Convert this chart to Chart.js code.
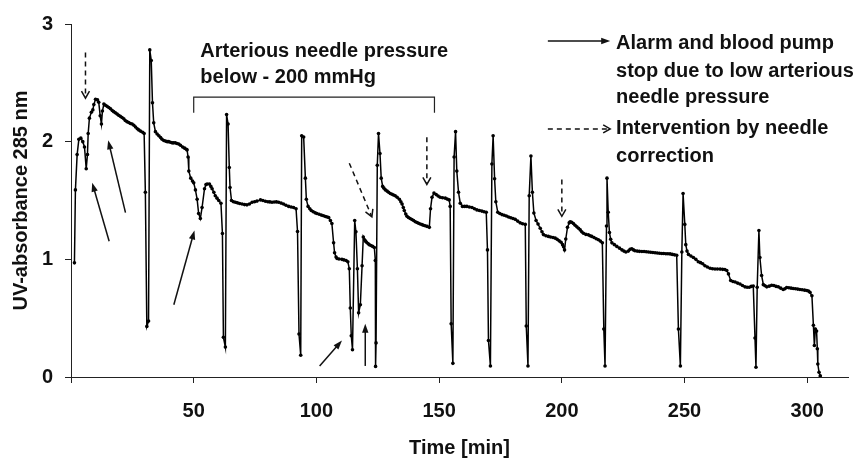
<!DOCTYPE html>
<html>
<head>
<meta charset="utf-8">
<script src="https://cdn.jsdelivr.net/npm/chart.js@4.4.0/dist/chart.umd.min.js"></script>
<style>
html,body{margin:0;padding:0;background:#fff;}
#wrap{width:867px;height:462px;position:relative;}
</style>
</head>
<body>
<div id="wrap"><canvas id="c" width="867" height="462"></canvas></div>
<script>
// ---- axis ticks ----
const xTicks = [0, 50, 100, 150, 200, 250, 300];
const yTicks = [0, 1, 2, 3];
const xTitle = 'Time [min]';
const yTitle = 'UV-absorbance 285 nm';

// ---- series: time [min] ----
const time = [
  1.4,1.8,2.5,3.2,4.0,4.8,5.5,6.2,6.7,7.0,7.5,8.3,8.9,9.3,10.0,10.8,11.3,11.9,12.4,12.8,13.4,
  14.0,14.7,15.4,16.1,16.8,17.4,18.1,18.8,19.4,20.1,20.8,21.5,22.1,22.8,23.5,24.2,24.9,25.6,26.3,27.0,27.6,28.3,29.2,29.8,
  30.3,30.9,31.6,32.1,32.7,33.2,33.7,34.4,
  35.1,35.8,36.5,37.1,37.8,38.5,39.2,39.8,40.5,41.2,41.8,42.5,43.2,43.9,44.6,45.5,46.3,47.0,47.3,
  47.7,48.0,48.8,49.5,50.0,50.7,51.4,52.0,52.7,53.4,54.4,55.0,55.5,56.4,57.0,57.5,58.2,58.8,59.5,60.2,61.1,
  61.7,62.1,62.9,63.4,64.0,64.5,64.8,65.4,
  66.2,67.0,67.8,68.7,69.7,70.7,71.7,72.7,73.8,74.8,75.8,77.2,78.2,79.2,80.2,81.0,81.9,82.8,83.7,84.6,85.6,86.6,87.6,88.7,89.7,90.7,91.7,
  92.3,92.9,93.6,94.0,94.8,95.5,95.9,96.6,
  97.3,97.9,98.7,99.5,100.2,101.1,102.0,102.9,103.7,104.4,105.0,105.7,106.3,107.0,107.4,108.0,108.4,109.2,110.4,111.2,112.1,112.8,
  113.4,113.8,114.2,114.7,115.6,116.1,116.7,117.2,117.9,118.6,119.1,119.6,120.0,120.4,121.0,121.5,122.2,122.9,123.6,
  124.0,124.1,124.3,124.8,125.3,125.9,126.4,127.0,
  127.5,128.1,128.8,129.4,130.1,130.8,131.4,132.1,132.9,133.8,134.4,134.9,135.4,135.8,136.4,136.9,137.5,138.2,138.9,139.6,140.3,141.0,141.6,142.3,143.0,143.6,144.3,145.1,146.0,
  146.5,147.1,147.9,148.8,149.6,150.4,151.4,152.5,153.3,154.1,
  154.5,154.9,155.6,156.1,156.7,157.2,157.9,158.6,
  159.5,160.4,161.3,162.3,163.4,164.4,165.4,166.4,167.4,168.3,169.2,
  169.7,170.1,170.9,171.5,172.0,172.6,173.1,173.9,
  174.7,175.6,176.5,177.4,178.3,179.2,180.1,181.0,182.0,183.0,184.0,185.1,
  185.5,186.2,186.7,187.4,188.0,188.6,189.5,190.3,
  191.2,191.9,192.5,193.5,194.5,195.4,196.4,197.3,198.1,198.9,199.7,200.3,200.7,201.1,201.6,202.3,203.0,203.4,
  204.0,204.7,205.4,206.1,206.8,207.5,208.1,208.8,209.8,210.8,211.5,212.2,213.1,214.0,214.9,215.7,216.5,
  217.1,217.6,218.2,218.4,218.9,219.4,219.9,220.4,
  221.4,222.4,223.5,224.5,225.3,226.1,227.1,227.8,228.5,229.2,229.8,230.7,231.6,232.6,233.5,234.4,235.3,236.2,237.1,238.0,238.9,239.8,240.7,241.5,242.4,243.2,244.1,245.0,245.9,246.8,
  247.5,248.3,248.9,249.4,250.1,250.5,251.0,251.6,
  252.6,253.6,254.6,255.6,256.5,257.4,258.3,259.3,260.4,261.4,262.4,263.4,264.5,265.5,266.4,267.2,267.9,268.8,269.7,270.6,271.6,272.6,273.6,274.6,275.5,276.4,277.2,278.0,
  278.7,279.1,279.6,280.3,280.7,281.4,282.1,282.8,
  283.5,284.5,285.5,286.4,287.3,288.2,289.2,290.2,290.9,291.6,292.5,293.4,294.3,295.2,296.1,297.0,297.9,298.9,299.8,300.5,301.1,301.9,
  302.5,302.9,303.3,303.8,304.1,304.3,304.8,305.3
];

// ---- series: UV-absorbance 285 nm ----
const absorbance = [
  0.97,1.59,1.89,2.02,2.03,2.00,1.955,1.77,1.89,2.07,2.20,2.25,2.27,2.315,2.36,2.355,2.335,2.22,2.15,2.26,2.32,
  2.31,2.30,2.29,2.28,2.265,2.255,2.245,2.235,2.225,2.215,2.205,2.195,2.18,2.17,2.163,2.155,2.15,2.14,2.125,2.11,2.10,2.09,2.08,2.07,
  1.57,0.43,0.475,2.78,2.69,2.33,2.16,2.085,
  2.065,2.05,2.035,2.02,2.01,2.005,2.00,2.00,1.995,1.99,1.99,1.99,1.985,1.98,1.97,1.955,1.945,1.935,1.93,
  1.87,1.75,1.69,1.665,1.65,1.59,1.51,1.39,1.347,1.44,1.60,1.635,1.64,1.64,1.62,1.60,1.57,1.54,1.52,1.50,1.477,
  1.22,0.337,0.254,2.23,2.15,1.78,1.61,1.50,
  1.49,1.485,1.48,1.475,1.47,1.465,1.463,1.47,1.485,1.49,1.495,1.505,1.50,1.494,1.49,1.488,1.485,1.487,1.488,1.485,1.478,1.47,1.46,1.45,1.445,1.44,1.43,
  1.237,0.365,0.185,2.05,2.04,1.69,1.51,1.45,
  1.43,1.415,1.405,1.395,1.39,1.383,1.376,1.37,1.364,1.36,1.355,1.33,1.305,1.14,1.056,1.02,1.007,1.003,1.00,0.995,0.99,0.98,
  0.92,0.586,0.35,0.232,1.33,1.235,0.92,0.545,0.614,0.946,1.19,1.167,1.155,1.145,1.135,1.125,1.117,1.11,1.10,
  0.99,0.09,0.29,1.80,2.07,1.90,1.69,1.62,
  1.605,1.59,1.58,1.57,1.56,1.553,1.547,1.54,1.527,1.51,1.49,1.47,1.44,1.415,1.385,1.366,1.355,1.347,1.338,1.33,1.32,1.313,1.307,1.30,1.295,1.29,1.286,1.28,1.272,
  1.43,1.527,1.563,1.55,1.538,1.527,1.523,1.52,1.512,1.505,
  1.45,0.453,0.116,1.87,2.085,1.75,1.57,1.477,
  1.45,1.45,1.45,1.445,1.44,1.43,1.42,1.415,1.41,1.405,1.40,
  1.08,0.31,0.094,1.81,2.05,1.685,1.49,1.40,
  1.39,1.38,1.375,1.368,1.36,1.353,1.347,1.34,1.325,1.31,1.303,1.297,
  0.434,0.094,1.54,1.878,1.57,1.394,1.33,1.30,
  1.264,1.235,1.21,1.20,1.195,1.19,1.185,1.18,1.17,1.157,1.145,1.125,1.106,1.08,1.173,1.272,1.31,1.32,
  1.315,1.305,1.29,1.277,1.264,1.25,1.235,1.222,1.212,1.208,1.20,1.195,1.185,1.175,1.167,1.155,1.14,
  0.407,0.094,1.283,1.69,1.40,1.228,1.17,1.14,
  1.125,1.11,1.095,1.08,1.07,1.062,1.07,1.085,1.09,1.08,1.073,1.07,1.068,1.067,1.066,1.064,1.062,1.06,1.058,1.056,1.054,1.052,1.05,1.05,1.048,1.047,1.046,1.042,1.038,1.034,
  0.407,0.094,1.062,1.56,1.297,1.125,1.07,1.042,
  1.028,1.015,1.00,0.98,0.972,0.962,0.946,0.935,0.924,0.92,0.918,0.918,0.917,0.915,0.913,0.905,0.876,0.82,0.812,0.807,0.798,0.79,0.778,0.766,0.763,0.763,0.77,0.774,
  0.332,0.083,0.763,1.245,1.015,0.863,0.785,0.775,
  0.766,0.772,0.78,0.777,0.77,0.766,0.755,0.744,0.75,0.76,0.758,0.755,0.752,0.75,0.747,0.744,0.742,0.738,0.735,0.73,0.72,0.69,
  0.44,0.268,0.407,0.39,0.24,0.11,0.04,0.01
];

// ---- annotations (data coordinates: [t1, y1, t2(tip), y2(tip)]) ----
const solidArrows = [
  [15.55, 1.153, 8.63, 1.651],
  [22.2, 1.397, 15.15, 2.011],
  [41.9, 0.614, 50.3, 1.245],
  [101.3, 0.094, 110.4, 0.31],
  [119.9, 0.094, 119.9, 0.453]
];
const dashedArrows = [
  [5.9, 2.758, 5.9, 2.37],
  [113.4, 1.817, 122.6, 1.361],
  [145.0, 2.038, 145.0, 1.637],
  [200.0, 1.679, 200.0, 1.366]
];
const bracketSpan = [50, 148.1];      // time range of the bracket
const bracketLevels = [2.378, 2.246]; // top line, foot of the end ticks
const bracketText = ['Arterious needle pressure', 'below - 200 mmHg'];
const bracketTextAt = [52.7, 2.716, 2.50];
const legendArrowSpan = [194.3, 219.7];
const legendTextX = 222.1;
const legendSolid = { y: 2.855, lines: ['Alarm and blood pump', 'stop due to low arterious', 'needle pressure'], base: [2.785, 2.553, 2.329] };
const legendDashed = { y: 2.108, lines: ['Intervention by needle', 'correction'], base: [2.066, 1.829] };

const FAMILY = '"Liberation Sans", Arial, Helvetica, sans-serif';
const FONT = 'bold 20px ' + FAMILY;
const INK = '#111';

const n = Math.min(time.length, absorbance.length);
const points = [];
for (let i = 0; i < n; i++) points.push({ x: time[i], y: absorbance[i] });

function drawArrow(ctx, x1, y1, x2, y2, dashed) {
  const ang = Math.atan2(y2 - y1, x2 - x1);
  const L = dashed ? 7 : 9, W = dashed ? 4 : 3.2;
  const c = Math.cos(ang), s = Math.sin(ang);
  ctx.save();
  ctx.strokeStyle = INK; ctx.fillStyle = INK; ctx.lineWidth = 1.5;
  ctx.setLineDash(dashed ? [5, 4] : []);
  ctx.beginPath();
  ctx.moveTo(x1, y1);
  const back = dashed ? 1 : L * 0.7;
  ctx.lineTo(x2 - c * back, y2 - s * back);
  ctx.stroke();
  ctx.setLineDash([]);
  const bx = x2 - c * L, by = y2 - s * L;
  const px = -s * W, py = c * W;
  ctx.beginPath();
  if (dashed) {
    ctx.moveTo(bx + px, by + py); ctx.lineTo(x2, y2); ctx.lineTo(bx - px, by - py); ctx.stroke();
  } else {
    ctx.moveTo(x2, y2); ctx.lineTo(bx + px, by + py); ctx.lineTo(bx - px, by - py); ctx.closePath(); ctx.fill();
  }
  ctx.restore();
}

const annotations = {
  id: 'annotations',
  afterDraw(chart) {
    const { ctx } = chart;
    const xs = chart.scales.x, ys = chart.scales.y;
    const X = v => xs.getPixelForValue(v), Y = v => ys.getPixelForValue(v);
    solidArrows.forEach(a => drawArrow(ctx, X(a[0]), Y(a[1]), X(a[2]), Y(a[3]), false));
    dashedArrows.forEach(a => drawArrow(ctx, X(a[0]), Y(a[1]), X(a[2]), Y(a[3]), true));
    // bracket
    ctx.save();
    ctx.strokeStyle = '#222'; ctx.lineWidth = 1.2;
    ctx.beginPath();
    ctx.moveTo(X(bracketSpan[0]), Y(bracketLevels[1]));
    ctx.lineTo(X(bracketSpan[0]), Y(bracketLevels[0]));
    ctx.lineTo(X(bracketSpan[1]), Y(bracketLevels[0]));
    ctx.lineTo(X(bracketSpan[1]), Y(bracketLevels[1]));
    ctx.stroke();
    ctx.restore();
    // texts
    ctx.save();
    ctx.font = FONT; ctx.fillStyle = INK; ctx.textAlign = 'left'; ctx.textBaseline = 'alphabetic';
    ctx.fillText(bracketText[0], X(bracketTextAt[0]), Y(bracketTextAt[1]));
    ctx.fillText(bracketText[1], X(bracketTextAt[0]), Y(bracketTextAt[2]));
    [legendSolid, legendDashed].forEach(item => {
      item.lines.forEach((t, i) => ctx.fillText(t, X(legendTextX), Y(item.base[i])));
    });
    ctx.restore();
    drawArrow(ctx, X(legendArrowSpan[0]), Y(legendSolid.y), X(legendArrowSpan[1]), Y(legendSolid.y), false);
    drawArrow(ctx, X(legendArrowSpan[0]), Y(legendDashed.y), X(legendArrowSpan[1]), Y(legendDashed.y), true);
  }
};

Chart.defaults.font.family = FAMILY;

new Chart(document.getElementById('c'), {
  type: 'line',
  data: {
    datasets: [{
      data: points,
      borderColor: '#000',
      borderWidth: 1.5,
      pointRadius: 1.8,
      pointBackgroundColor: '#000',
      pointBorderWidth: 0,
      pointHoverRadius: 0,
      tension: 0,
      fill: false
    }]
  },
  options: {
    responsive: false,
    animation: false,
    devicePixelRatio: 1,
    parsing: false,
    layout: { padding: { top: 16, right: 19, left: 0, bottom: 0 } },
    plugins: { legend: { display: false }, tooltip: { enabled: false } },
    scales: {
      x: {
        type: 'linear',
        min: 0, max: 316.6,
        afterBuildTicks: s => { s.ticks = xTicks.map(v => ({ value: v })); },
        afterFit: s => { s.height = 85; },
        ticks: {
          callback: v => (v === 0 ? '' : String(v)),
          font: { size: 20, weight: 'bold' }, color: INK, padding: 16, maxRotation: 0, autoSkip: false
        },
        grid: { display: true, drawOnChartArea: false, drawTicks: true, tickLength: 6, color: '#222', lineWidth: 1 },
        border: { display: true, color: '#222', width: 1 },
        title: { display: true, text: xTitle, font: { size: 20, weight: 'bold' }, color: INK, padding: { top: 0, bottom: 2 } }
      },
      y: {
        type: 'linear',
        min: 0, max: 3,
        afterBuildTicks: s => { s.ticks = yTicks.map(v => ({ value: v })); },
        afterFit: s => { s.width = 71; },
        ticks: { font: { size: 20, weight: 'bold' }, color: INK, padding: 12 },
        grid: { display: true, drawOnChartArea: false, drawTicks: true, tickLength: 6, color: '#222', lineWidth: 1 },
        border: { display: true, color: '#222', width: 1 },
        title: { display: true, text: yTitle, font: { size: 20, weight: 'bold' }, color: INK, padding: { top: 9, bottom: 0 } }
      }
    }
  },
  plugins: [annotations]
});
</script>
</body>
</html>
